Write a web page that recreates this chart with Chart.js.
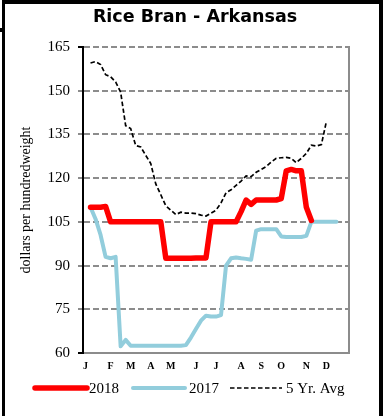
<!DOCTYPE html>
<html><head><meta charset="utf-8">
<script src="https://cdn.jsdelivr.net/npm/chart.js@4"></script>
<style>
html,body{margin:0;padding:0;background:#fff;}
#wrap{position:relative;width:390px;height:416px;overflow:hidden;background:#fff;}
canvas{position:absolute;left:0;top:0;}
.b{position:absolute;background:#000;}
</style></head><body>
<div id="wrap"><canvas id="c" width="390" height="416"></canvas>
<div class="b" style="left:2px;top:0;width:381px;height:4px"></div>
<div class="b" style="left:379px;top:0;width:4px;height:416px"></div>
<div class="b" style="left:2px;top:0;width:3px;height:416px"></div>
<div class="b" style="left:0;top:28px;width:5px;height:4px"></div>
</div>
<script>
// Month tick labels and the week index where each appears
const monthLabels = ['J','F','M','A','M','J','J','A','S','O','N','D'];
const monthWeekIndex = [0,5,9,13,17,22,26,31,35,39,44,48];
const weekCount = 53;

// Series (dollars per hundredweight), one value per week slot
const series2018 = [null,110,110,110,110.3,105,105,105,105,105,105,105,105,105,105,105,
  92.5,92.5,92.5,92.5,92.5,92.5,92.6,92.6,92.6,105,105,105,105,105,105,108.5,112.5,111,112.5,
  112.5,112.5,112.5,112.5,113,122.5,123,122.5,122.5,110,105.5,null,null,null,null,null,null,null];
const series2017 = [null,110,106,100.5,93,92.5,93,62.3,64.5,62.5,62.5,62.5,62.5,62.5,62.5,62.5,
  62.5,62.5,62.5,62.5,62.7,65.3,68.2,71.1,72.8,72.5,72.5,73,90,92.5,92.8,92.5,92.3,92,102,
  102.5,102.5,102.5,102.5,100,99.8,99.8,99.8,99.8,100.2,105,105,105,105,105,105,null,null];
const series5yr = [null,159.5,160,159,155.5,154.8,153,149.5,138,137,131.2,130.7,127.8,125,118,
  114.3,110.5,109,107.5,108.3,108,108,107.8,107.3,107,108,109,111.5,115,116,117.5,119,120.8,
  120.5,122,123,124,125.5,126.8,127,127.1,126.8,125.3,126.8,128.5,131.3,131,131.5,139.5,
  null,null,null,null];

const yTicks = {min:60, max:165, step:15};
const seriesNames = ['2018','2017','5 Yr. Avg'];

const weekLabels = [];
for (let i = 0; i < weekCount; i++) {
  const k = monthWeekIndex.indexOf(i);
  weekLabels.push(k >= 0 ? monthLabels[k] : '');
}

const legendPlugin = {
  id: 'customLegend',
  afterDraw(chart) {
    const ctx = chart.ctx;
    const y = 388;
    const items = [
      {x1:35, x2:87, tx:89},
      {x1:133, x2:185, tx:189},
      {x1:230, x2:282, tx:286}
    ];
    chart.data.datasets.forEach((ds, i) => {
      const it = items[i];
      ctx.save();
      ctx.strokeStyle = ds.borderColor;
      ctx.lineWidth = ds.borderWidth;
      ctx.lineCap = ds.borderDash && ds.borderDash.length ? 'butt' : 'round';
      ctx.setLineDash(ds.borderDash || []);
      ctx.beginPath();
      ctx.moveTo(it.x1, y);
      ctx.lineTo(it.x2, y);
      ctx.stroke();
      ctx.setLineDash([]);
      ctx.fillStyle = '#000';
      ctx.font = '15px "Liberation Serif"';
      ctx.textBaseline = 'middle';
      ctx.textAlign = 'left';
      ctx.fillText(ds.label, it.tx, y + 1);
      ctx.restore();
    });
  }
};

new Chart(document.getElementById('c'), {
  type: 'line',
  data: {
    labels: weekLabels,
    datasets: [
      {label: seriesNames[0], data: series2018, borderColor:'#ff0000', borderWidth:5.5,
       pointRadius:0, tension:0, borderJoinStyle:'round', borderCapStyle:'round', spanGaps:false},
      {label: seriesNames[1], data: series2017, borderColor:'#92cddc', borderWidth:4,
       pointRadius:0, tension:0, borderJoinStyle:'round', borderCapStyle:'round'},
      {label: seriesNames[2], data: series5yr, borderColor:'#000000', borderWidth:1.7,
       borderDash:[4.5,2.5], pointRadius:0, tension:0}
    ]
  },
  options: {
    responsive: false,
    animation: false,
    events: [],
    layout: {padding: {left:0, right:0, top:0, bottom:43}},
    plugins: {
      legend: {display:false},
      tooltip: {enabled:false},
      title: {display:true, text:'Rice Bran - Arkansas', color:'#000',
        font:{family:'DejaVu Sans', weight:'bold', size:17.5}, padding:{top:7, bottom:19}}
    },
    scales: {
      x: {
        type: 'category', offset: true,
        grid: {display:false, drawTicks:false},
        border: {color:'#8c8c8c', width:2},
        ticks: {autoSkip:false, maxRotation:0, minRotation:0, padding:7, color:'#000',
          font:{family:'Liberation Serif', weight:'bold', size:10}},
        afterFit(s) { s.height = 20; }
      },
      y: {
        min: yTicks.min, max: yTicks.max,
        ticks: {stepSize: yTicks.step, color:'#000', padding:8,
          font:{family:'Liberation Serif', size:15}},
        grid: {color:'#8c8c8c', lineWidth:2, tickLength:5,
          tickColor: (c) => (c.tick && (c.tick.value === 60 || c.tick.value === 165)) ? '#000' : '#8c8c8c',
          tickBorderDash:[6,3]},
        border: {color:'#000', width:2, dash:[6,3]},
        title: {display:true, text:'dollars per hundredweight', color:'#000',
          font:{family:'Liberation Serif', size:14}, padding:{top:18, bottom:0}},
        afterFit(s) { s.width = 83; }
      },
      y2: {
        position: 'right', display: true, min: yTicks.min, max: yTicks.max,
        grid: {drawOnChartArea:false, drawTicks:false},
        ticks: {display:false},
        border: {color:'#8c8c8c', width:2},
        afterFit(s) { s.width = 41; }
      }
    }
  },
  plugins: [legendPlugin]
});
</script>
</body></html>
